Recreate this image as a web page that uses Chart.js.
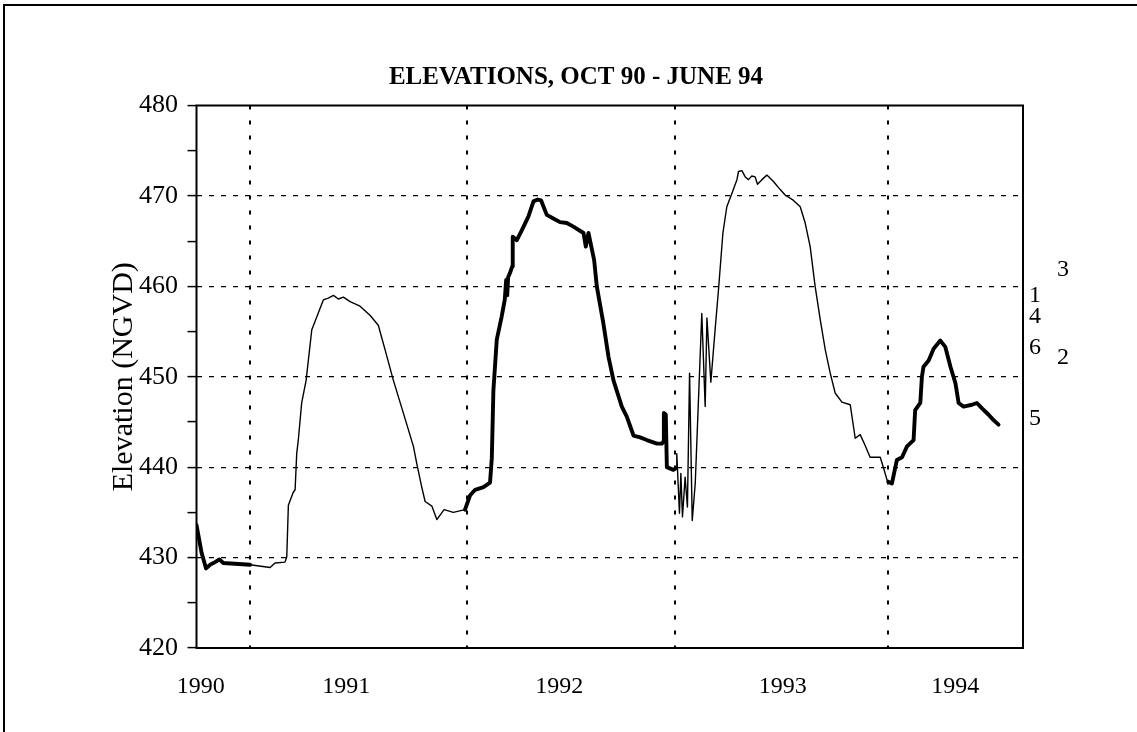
<!DOCTYPE html>
<html><head><meta charset="utf-8">
<script src="https://cdn.jsdelivr.net/npm/chart.js@4.4.1/dist/chart.umd.min.js"></script>
<style>
html,body{margin:0;padding:0;background:#fff;}
#wrap{position:relative;width:1137px;height:732px;overflow:hidden;}
#frame{position:absolute;left:3px;top:4px;right:-10px;bottom:-10px;border-top:2px solid #000;border-left:2px solid #000;pointer-events:none;}
canvas{position:absolute;left:0;top:0;}
</style></head><body>
<div id="wrap"><canvas id="c" width="1137" height="732"></canvas><div id="frame"></div></div>
<script>
// months since 1 Oct 1990
const months = [0,0.29,0.54,0.76,1.05,1.29,1.51,3.02,4.15,4.43,4.99,5.09,5.18,5.45,5.56,5.65,5.74,5.93,6.18,6.5,6.78,7.15,7.43,7.72,8.0,8.28,8.66,9.22,9.78,10.25,10.63,11.1,11.66,12.23,12.42,12.7,12.89,13.27,13.55,13.96,14.48,15.14,15.43,15.71,16.18,16.55,16.65,16.74,16.93,17.2,17.38,17.46,17.52,17.57,17.68,17.8,17.83,18.06,18.34,18.71,19.0,19.24,19.43,19.75,20.12,20.5,20.88,21.25,21.82,21.95,22.1,22.42,22.57,22.94,23.23,23.51,23.98,24.26,24.64,25.01,25.39,25.96,26.24,26.31,26.35,26.46,26.52,26.89,27.04,27.08,27.23,27.31,27.4,27.55,27.68,27.8,27.95,28.12,28.49,28.68,28.78,29.0,29.24,29.43,29.68,29.9,30.19,30.47,30.56,30.75,30.94,31.12,31.31,31.5,31.63,31.88,32.16,32.53,32.91,33.19,33.66,34.04,34.32,34.6,34.88,35.17,35.45,35.73,36.01,36.39,36.86,37.14,37.42,37.7,37.98,38.55,38.74,38.93,39.0,39.21,39.49,39.78,40.06,40.43,40.52,40.81,40.9,40.99,41.28,41.56,41.94,42.22,42.51,42.79,42.97,43.25,43.72,44.0,44.29,44.66,44.94,45.22];
const elevations = [433.6,430.5,428.8,429.2,429.5,429.8,429.4,429.2,428.9,429.4,429.5,430.1,435.8,437.2,437.5,441.5,443.0,447.1,449.6,455.2,456.6,458.5,458.7,459.0,458.6,458.8,458.3,457.8,456.8,455.7,453.0,449.6,446.0,442.3,440.4,437.8,436.2,435.7,434.2,435.3,435.0,435.3,436.9,437.5,437.8,438.3,441.0,448.5,454.1,456.6,458.5,460.7,459.0,461.0,461.5,462.2,465.5,465.1,466.2,467.7,469.4,469.6,469.5,467.9,467.5,467.1,467.0,466.6,465.9,464.4,465.9,462.9,460.0,455.9,452.2,449.6,446.7,445.6,443.5,443.3,443.0,442.6,442.6,442.8,446.0,445.8,440.0,439.7,439.9,441.5,434.9,439.3,434.5,438.9,435.6,450.4,434.1,438.2,457.0,446.7,456.5,449.4,455.2,459.6,465.9,468.8,470.3,471.8,472.7,472.8,472.1,471.8,472.2,472.1,471.3,471.8,472.3,471.6,470.7,470.1,469.5,468.8,467.0,464.4,460.0,456.3,453.0,450.4,448.2,447.2,446.9,443.2,443.6,442.4,441.1,441.1,439.9,438.6,438.4,438.2,440.8,441.1,442.3,443.0,446.3,447.1,450.0,451.1,451.8,453.1,454.0,453.3,451.1,449.3,447.1,446.7,446.9,447.1,446.5,445.8,445.2,444.7];
// periods (in months) drawn with the heavy line
const thickPeriods = [[0,3.02],[15.14,27.04],[39.0,46.6]];
// vertical dotted gridlines (start of each calendar year)
const gridMonths = [3, 15.25, 27, 39];
// year tick labels and where they sit on the month axis
const yearLabels = ['1990','1991','1992','1993','1994'];
const yearLabelMonths = [0.24, 8.44, 20.45, 33.05, 42.78];
// y axis
const yMin = 420, yMax = 480, yStep = 5;
// side annotations
const sideLabels = ['1','4','6','5','3','2'];
const sideLabelValues = [459.0, 456.6, 453.2, 445.4, 461.8, 452.1];
const sideLabelColumns = [0,0,0,0,1,1];

const FONT = "'Liberation Serif','Times New Roman',serif";
Chart.defaults.font.family = FONT;
Chart.defaults.color = '#000';

const points = months.map((m,i)=>({x:m, y:elevations[i]}));
const isThick = (a,b) => thickPeriods.some(([s,e]) => a >= s - 1e-6 && b <= e + 1e-6);

const framePlugin = {
  id:'frame',
  afterDraw(chart){
    const {ctx, chartArea:a} = chart;
    ctx.save();
    ctx.strokeStyle = '#000'; ctx.lineWidth = 2;
    ctx.strokeRect(a.left, a.top, a.right - a.left, a.bottom - a.top);
    ctx.font = '24px ' + FONT;
    ctx.fillStyle = '#000'; ctx.textAlign = 'center'; ctx.textBaseline = 'middle';
    const colOffset = [12, 40];
    sideLabels.forEach((t,i)=>{
      ctx.fillText(t, a.right + colOffset[sideLabelColumns[i]], chart.scales.y.getPixelForValue(sideLabelValues[i]));
    });
    ctx.restore();
  }
};

new Chart(document.getElementById('c'), {
  type:'line',
  data:{datasets:[{
    data:points, borderColor:'#000', borderWidth:1.4, pointRadius:0, tension:0, fill:false,
    borderJoinStyle:'round', borderCapStyle:'round',
    segment:{borderWidth: c => isThick(c.p0.parsed.x, c.p1.parsed.x) ? 3.9 : 1.4}
  }]},
  options:{
    responsive:false, animation:false, events:[],
    layout:{padding:{left:15,right:0,top:0,bottom:0}},
    plugins:{
      legend:{display:false}, tooltip:{enabled:false},
      title:{display:true, text:'ELEVATIONS, OCT 90 - JUNE 94', color:'#000',
        font:{size:25, weight:'bold'}, padding:{top:63, bottom:12.5}}
    },
    scales:{
      x:{type:'linear', position:'bottom', min:0, max:46.6, weight:1,
        afterBuildTicks: s => { s.ticks = yearLabelMonths.map(v=>({value:v})); },
        ticks:{autoSkip:false, maxRotation:0, padding:24.6, font:{size:24}, callback:(v,i)=>yearLabels[i]},
        grid:{display:false, drawTicks:false}, border:{display:false},
        afterFit: s => { s.height = 84; }},
      xg:{type:'linear', position:'bottom', min:0, max:46.6, weight:0,
        afterBuildTicks: s => { s.ticks = gridMonths.map(v=>({value:v})); },
        ticks:{display:false},
        grid:{display:true, drawTicks:false, color:'#000', lineWidth:2},
        border:{display:false, dash:[4,11]},
        afterFit: s => { s.height = 0; }},
      y:{type:'linear', position:'left', min:yMin, max:yMax,
        ticks:{stepSize:yStep, padding:9.5, font:{size:26}, callback:v => (v % 10 === 0 ? v : '')},
        grid:{color: c => (c.tick && c.tick.value % 10 === 0 && c.tick.value > yMin && c.tick.value < yMax) ? '#000' : 'rgba(0,0,0,0)',
              lineWidth:1.2, tickColor:'#000', tickWidth:1.5, tickLength:9, tickBorderDash:[]},
        border:{display:false, dash:[5,7]},
        title:{display:true, text:'Elevation (NGVD)', font:{size:30}, color:'#000', padding:{top:91, bottom:0}},
        afterFit: s => { s.width = 181.5; }},
      yr:{type:'linear', position:'right', min:yMin, max:yMax,
        ticks:{display:false}, grid:{display:false, drawTicks:false}, border:{display:false},
        afterFit: s => { s.width = 114; }}
    }
  },
  plugins:[framePlugin]
});
</script>
</body></html>
